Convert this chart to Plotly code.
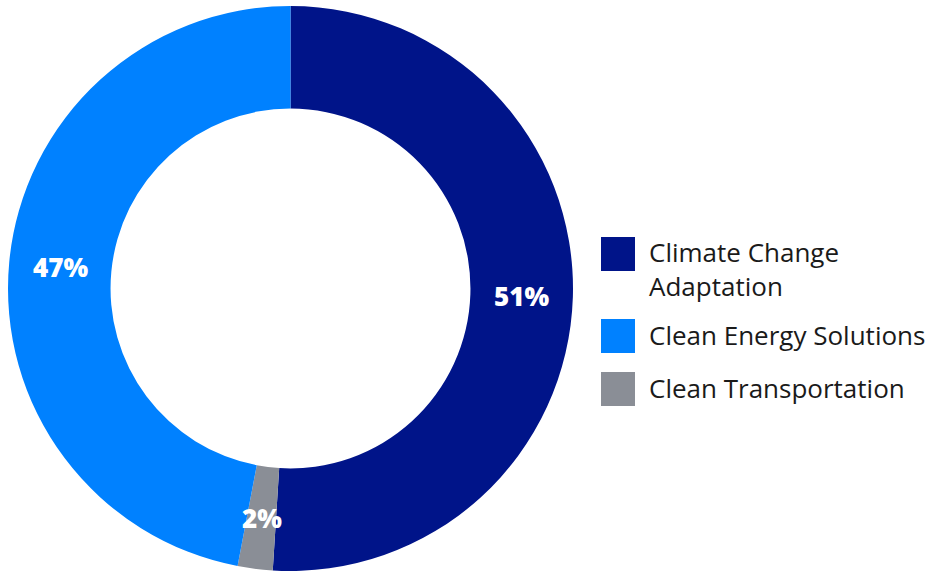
import math
import plotly.graph_objects as go

labels = ["Climate Change Adaptation", "Clean Transportation", "Clean Energy Solutions"]
values = [51, 2, 47]
slice_labels = ["51%", "2%", "47%"]
colors = ["#001489", "#8a8e96", "#0081ff"]
legend_labels = ["Climate Change<br>Adaptation", "Clean Energy Solutions", "Clean Transportation"]
legend_colors = ["#001489", "#0081ff", "#8a8e96"]

W, H = 928, 571
HOLE = 0.637
dom_x = [8 / W, 573 / W]
dom_y = [0, 565 / H]

fig = go.Figure()
fig.add_trace(go.Pie(
    labels=labels,
    values=values,
    textinfo="none",
    marker=dict(colors=colors, line=dict(width=0)),
    hole=HOLE,
    sort=False,
    direction="clockwise",
    rotation=0,
    showlegend=False,
    domain=dict(x=dom_x, y=dom_y),
    hoverinfo="skip",
))

annotations = []
# slice labels at mid-angle, mid-radius (computed from values)
cx_px = (dom_x[0] + dom_x[1]) / 2 * W
cy_px = (dom_y[0] + dom_y[1]) / 2 * H  # from bottom
R = min((dom_x[1] - dom_x[0]) * W, (dom_y[1] - dom_y[0]) * H) / 2
rmid = R * (1 + HOLE) / 2
total = sum(values)
cum = 0
for v, t in zip(values, slice_labels):
    mid = (cum + v / 2) / total * 2 * math.pi
    cum += v
    px = cx_px + rmid * math.sin(mid)
    py = cy_px + rmid * math.cos(mid)
    annotations.append(dict(xref="paper", yref="paper", x=px / W, y=py / H,
                            xanchor="center", yanchor="middle", text=t, showarrow=False,
                            font=dict(family="Open Sans", size=26, color="white", weight=800)))

# custom legend (large squares)
box = 34
x0 = 601
ycenters = [254, 336, 389]
shapes = []
for i, (lab, col) in enumerate(zip(legend_labels, legend_colors)):
    yc = ycenters[i]
    shapes.append(dict(type="rect", xref="paper", yref="paper",
                       x0=x0 / W, x1=(x0 + box) / W,
                       y0=1 - (yc + box / 2) / H, y1=1 - (yc - box / 2) / H,
                       fillcolor=col, line=dict(width=0)))
    n = lab.count("<br>") + 1
    tc = yc - 1 + (n - 1) * 15.5
    annotations.append(dict(xref="paper", yref="paper", x=647 / W,
                            y=1 - tc / H, xanchor="left", yanchor="middle",
                            text=lab, showarrow=False, align="left",
                            font=dict(family="Open Sans", size=26, color="#1a1a1a")))

fig.update_layout(
    width=W, height=H,
    margin=dict(l=0, r=0, t=0, b=0),
    paper_bgcolor="white", plot_bgcolor="white",
    shapes=shapes, annotations=annotations,
)
fig.write_html("out.html")
